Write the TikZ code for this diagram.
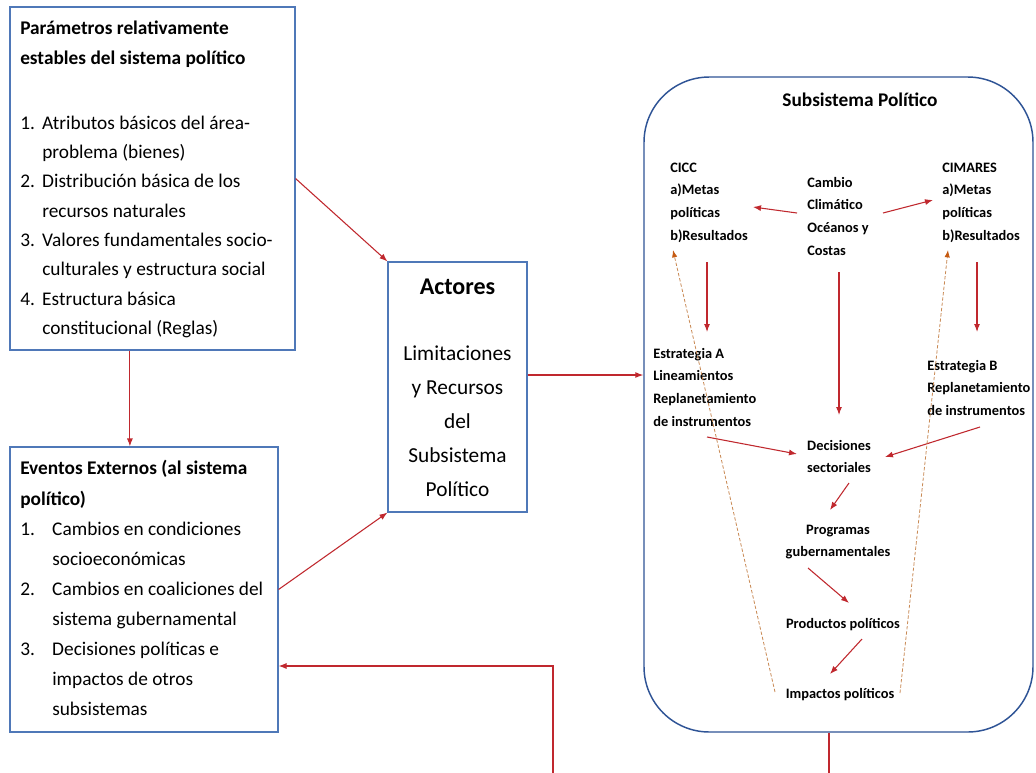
\documentclass[tikz,border=0pt]{standalone}
\usepackage{fontspec}
\setmainfont{Carlito}
\usetikzlibrary{arrows.meta,calc,fit}
\definecolor{boxblue}{HTML}{4F78B8}
\definecolor{subblue}{HTML}{2F5496}
\definecolor{arrred}{HTML}{C0282E}
\definecolor{dashor}{HTML}{C98A55}
\definecolor{dashhead}{HTML}{C55A11}
\newcommand\numA[1]{\makebox[16.5pt][l]{#1}}
\newcommand\numB[1]{\makebox[24pt][l]{#1}}
\begin{document}
\begin{tikzpicture}[x=0.75pt,y=-0.75pt,
  box/.style={draw=boxblue,line width=0.8pt,inner sep=0pt},
  subbox/.style={draw=subblue,line width=1.1pt,inner sep=0pt,rounded corners=49pt},
  lbl/.style={inner sep=0pt,anchor=base west},
  clbl/.style={inner sep=0pt,anchor=base},
  listfont/.style={font=\fontsize{14.5}{22}\selectfont},
  evfont/.style={font=\fontsize{14.5}{22.5}\selectfont},
  titfont/.style={font=\fontsize{14.5}{22.5}\selectfont\bfseries},
  actfont/.style={font=\fontsize{16}{25.5}\selectfont},
  inner/.style={font=\fontsize{10.8}{17}\selectfont\bfseries},
  arr/.style={draw=arrred,line width=0.8pt,-{Latex[length=6pt,width=4.5pt]}},
  darr/.style={draw=dashor,line width=0.6pt,dash pattern=on 2.5pt off 1.5pt,-{Latex[length=5.5pt,width=4pt,color=dashhead]}}
]
\useasboundingbox (0,0) rectangle (1036,772);
\fill[white] (0,0) rectangle (1036,772);

% ---- boxes
\node[box,fit={(10,7) (295,350)}] (params) {};
\node[box,fit={(10,447) (278,732)}] (eventos) {};
\node[box,fit={(388,262) (527,512)}] (actores) {};
\node[subbox,fit={(644,77) (1033,732)}] (sub) {};

% ---- parameters box text
\node[lbl,titfont] (paramsT) at (20,34) {\begin{tabular}[t]{@{}l@{}}Parámetros relativamente\\estables del sistema político\end{tabular}};
\node[lbl,listfont] (paramsL) at (20,129) {\begin{tabular}[t]{@{}l@{}}
\numA{1.}Atributos básicos del área-\\
\numA{}problema (bienes)\\
\numA{2.}Distribución básica de los\\
\numA{}recursos naturales\\
\numA{3.}Valores fundamentales socio-\\
\numA{}culturales y estructura social\\
\numA{4.}Estructura básica\\
\numA{}constitucional (Reglas)\end{tabular}};

% ---- external events text
\node[lbl,font=\fontsize{14.5}{23.25}\selectfont\bfseries] (eventosT) at (20,474) {\begin{tabular}[t]{@{}l@{}}Eventos Externos (al sistema\\político)\end{tabular}};
\node[lbl,evfont] (eventosL) at (20,535) {\begin{tabular}[t]{@{}l@{}}
\numB{1.}Cambios en condiciones\\
\numB{}socioeconómicas\\
\numB{2.}Cambios en coaliciones del\\
\numB{}sistema gubernamental\\
\numB{3.}Decisiones políticas e\\
\numB{}impactos de otros\\
\numB{}subsistemas\end{tabular}};

% ---- actors text
\node[clbl,font=\fontsize{18}{22}\selectfont\bfseries] (actoresT) at (457.5,294) {Actores};
\node[clbl,actfont] (actoresL) at (457.5,360) {\begin{tabular}[t]{@{}c@{}}Limitaciones\\y Recursos\\del\\Subsistema\\Político\end{tabular}};

% ---- subsystem text
\node[clbl,font=\fontsize{14.5}{20}\selectfont\bfseries] (subT) at (860,106) {Subsistema Político};
\node[lbl,inner] (cicc) at (670,172) {\begin{tabular}[t]{@{}l@{}}CICC\\a)Metas\\políticas\\b)Resultados\end{tabular}};
\node[lbl,inner] (cambio) at (807,187) {\begin{tabular}[t]{@{}l@{}}Cambio\\Climático\\Océanos y\\Costas\end{tabular}};
\node[lbl,inner] (cimares) at (942,172) {\begin{tabular}[t]{@{}l@{}}CIMARES\\a)Metas\\políticas\\b)Resultados\end{tabular}};
\node[lbl,inner] (estA) at (653,358) {\begin{tabular}[t]{@{}l@{}}Estrategia A\\Lineamientos\\Replanetamiento\\de instrumentos\end{tabular}};
\node[lbl,inner] (estB) at (927,370) {\begin{tabular}[t]{@{}l@{}}Estrategia B\\Replanetamiento\\de instrumentos\end{tabular}};
\node[clbl,inner] (decis) at (839,450) {\begin{tabular}[t]{@{}c@{}}Decisiones\\sectoriales\end{tabular}};
\node[clbl,inner] (prog) at (838,534) {\begin{tabular}[t]{@{}c@{}}Programas\\gubernamentales\end{tabular}};
\node[clbl,inner] (prod) at (843,628) {Productos políticos};
\node[clbl,inner] (imp) at (840,698) {Impactos políticos};

% ---- outer connectors
\draw[arr] (params.east) -- (actores.north west);
\draw[arr] ($(params.south west)!0.421!(params.south east)$) coordinate (pe) -- (pe |- eventos.north);
\draw[arr] (eventos.east) -- (actores.south west);
\draw[arr] ($(actores.east)+(0,-12)$) coordinate (ae) -- (ae -| sub.west);
\coordinate (fbA) at (829,790);
\coordinate (fbB) at (553,666);
\draw[arr] ($(sub.south)+(-9.5,0)$) -- (fbA) -| (fbB) -- (fbB -| eventos.east);

% ---- inner connectors
\draw[arr] ($(cambio.base west)+(-10,26)$) -- ($(cicc.base west)+(83,35)$);
\draw[arr] ($(cambio.base west)+(76,26)$) -- ($(cimares.base west)+(-9,28)$);
\draw[arr] ($(cicc.base west)+(37,90)$) -- ($(estA.base west)+(54,-26)$);
\draw[arr] ($(cimares.base west)+(35,90)$) -- ($(estB.base west)+(50,-38)$);
\draw[arr] ($(cambio.base west)+(32,85)$) -- ($(decis.base)+(0,-35)$);
\draw[arr] ($(estA.base west)+(54,79)$) -- ($(decis.base)+(-42,4)$);
\draw[arr] ($(estB.base west)+(53,57)$) -- ($(decis.base)+(46,7)$);
\draw[arr] ($(decis.base)+(10,33)$) -- ($(prog.base)+(-8,-24)$);
\draw[arr] ($(prog.base)+(-30,34)$) -- ($(prod.base)+(6,-25)$);
\draw[arr] ($(prod.base)+(19,11)$) -- ($(imp.base)+(-10,-24)$);
\draw[darr] ($(imp.base)+(-65,-6)$) -- ($(cicc.base west)+(3,78)$);
\draw[darr] ($(imp.base)+(60,-5)$) -- ($(cimares.base west)+(6,78)$);
\end{tikzpicture}
\end{document}
